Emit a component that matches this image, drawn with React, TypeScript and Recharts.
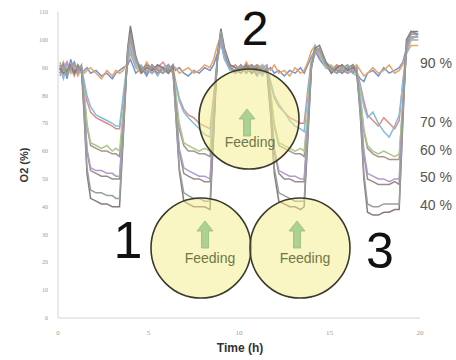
import React from 'react';
import { LineChart, Line, XAxis, YAxis } from 'recharts';

// sampling times (h), denser around the drops
const time = [
  0.1, 0.3, 0.5, 0.7, 0.9, 1.1, 1.3,
  1.45, 1.6, 1.8,
  2.1, 2.4, 2.7, 3.0, 3.2, 3.4,
  3.6, 3.85, 4.0, 4.3,
  4.6, 4.9, 5.2, 5.5, 5.8, 6.1, 6.35,
  6.5, 6.7, 6.95,
  7.2, 7.5, 7.8, 8.1, 8.4,
  8.6, 8.8, 9.0, 9.2, 9.5,
  9.8, 10.1, 10.4, 10.7, 11.0, 11.3, 11.55,
  11.75, 11.95, 12.2,
  12.5, 12.8, 13.1, 13.4, 13.6,
  13.8, 14.0, 14.2, 14.45, 14.8,
  15.1, 15.4, 15.7, 16.0, 16.3, 16.5,
  16.7, 16.9, 17.1,
  17.4, 17.7, 18.0, 18.3, 18.6, 18.85,
  19.05, 19.25, 19.5, 19.9,
];

// O2 (%) per setpoint, two runs each
const o2_90a = [
  88, 91, 86, 93, 89, 90, 88, 89, 90, 88, 89, 87, 88, 86, 88, 89, 90, 91, 93, 88,
  90, 87, 91, 89, 90, 88, 91, 89, 90, 88, 87, 89, 88, 90, 89, 91, 95, 99, 93, 90,
  88, 91, 89, 90, 87, 91, 89, 90, 88, 89, 87, 89, 88, 90, 88, 91, 94, 96, 93, 90,
  89, 91, 88, 90, 89, 88, 86, 85, 88, 89, 87, 90, 88, 89, 90, 92, 97, 100, 100,
];
const o2_90b = [
  91, 87, 92, 88, 90, 87, 90, 88, 89, 90, 88, 86, 89, 87, 89, 88, 89, 92, 95, 90,
  88, 92, 89, 90, 88, 91, 89, 90, 88, 89, 90, 88, 89, 91, 90, 93, 98, 101, 95, 91,
  90, 88, 92, 89, 91, 88, 90, 89, 91, 88, 89, 87, 90, 88, 89, 92, 96, 98, 95, 91,
  90, 88, 91, 89, 90, 91, 89, 87, 88, 90, 88, 89, 91, 88, 89, 91, 95, 98, 98,
];
const o2_70a = [
  89, 92, 88, 90, 87, 91, 89, 84, 78, 74, 72, 71, 70, 69, 68, 68, 78, 92, 97, 91,
  89, 91, 88, 90, 92, 89, 90, 85, 79, 75, 73, 72, 70, 69, 68, 80, 93, 99, 94, 90,
  91, 89, 90, 88, 91, 90, 88, 84, 79, 76, 74, 72, 71, 70, 70, 82, 93, 97, 94, 91,
  89, 91, 90, 88, 90, 89, 84, 78, 73, 71, 69, 72, 70, 68, 71, 85, 96, 101, 101,
];
const o2_70b = [
  90, 86, 91, 89, 92, 88, 90, 85, 80, 76, 73, 72, 71, 70, 69, 69, 80, 93, 96, 90,
  91, 88, 90, 87, 90, 91, 88, 84, 78, 74, 72, 70, 68, 66, 65, 78, 92, 100, 93, 89,
  89, 90, 88, 91, 89, 87, 90, 85, 80, 77, 74, 71, 69, 68, 67, 80, 92, 98, 95, 90,
  90, 88, 89, 91, 88, 87, 83, 76, 72, 74, 70, 67, 65, 69, 73, 84, 95, 100, 102,
];
const o2_60a = [
  88, 90, 87, 91, 89, 88, 90, 80, 69, 62, 61, 60, 60, 59, 59, 58, 72, 95, 101, 92,
  90, 88, 91, 89, 88, 90, 89, 80, 68, 62, 60, 60, 59, 59, 58, 74, 92, 101, 95, 90,
  88, 90, 89, 91, 88, 90, 89, 80, 69, 62, 61, 60, 59, 59, 58, 72, 91, 96, 96, 91,
  88, 90, 89, 88, 91, 89, 79, 67, 61, 59, 58, 58, 57, 57, 57, 78, 97, 102, 102,
];
const o2_60b = [
  92, 89, 90, 88, 91, 90, 88, 81, 70, 63, 62, 61, 62, 60, 61, 60, 74, 94, 99, 91,
  89, 90, 88, 91, 89, 88, 90, 81, 70, 63, 62, 61, 60, 61, 60, 76, 93, 102, 96, 91,
  90, 89, 91, 88, 90, 91, 88, 81, 70, 63, 62, 61, 60, 61, 60, 74, 92, 97, 95, 90,
  91, 89, 90, 89, 88, 90, 80, 68, 62, 60, 59, 60, 59, 58, 59, 76, 96, 100, 100,
];
const o2_50a = [
  89, 91, 88, 90, 88, 91, 89, 76, 60, 53, 52, 51, 51, 50, 50, 50, 68, 96, 103, 93,
  89, 91, 90, 88, 90, 89, 91, 77, 60, 52, 51, 50, 50, 49, 49, 70, 93, 103, 96, 90,
  89, 88, 90, 91, 89, 88, 90, 76, 60, 52, 50, 50, 49, 49, 49, 68, 90, 96, 97, 92,
  90, 89, 88, 90, 91, 88, 76, 59, 50, 49, 48, 48, 48, 49, 48, 74, 98, 103, 102,
];
const o2_50b = [
  87, 90, 92, 89, 91, 88, 90, 77, 61, 54, 53, 53, 52, 52, 51, 51, 70, 94, 100, 92,
  90, 89, 88, 91, 89, 90, 88, 77, 61, 54, 53, 52, 51, 51, 50, 72, 94, 101, 95, 91,
  88, 91, 89, 90, 88, 90, 91, 77, 61, 53, 52, 51, 51, 50, 50, 70, 91, 95, 96, 91,
  89, 90, 91, 88, 89, 90, 77, 60, 52, 51, 50, 50, 49, 50, 50, 75, 96, 101, 101,
];
const o2_40a = [
  90, 88, 89, 91, 88, 90, 89, 72, 52, 43, 42, 41, 41, 40, 40, 40, 64, 97, 105, 94,
  88, 90, 89, 91, 90, 88, 90, 74, 53, 42, 41, 40, 40, 40, 39, 66, 94, 104, 97, 91,
  90, 89, 91, 88, 90, 89, 88, 73, 52, 42, 41, 40, 40, 39, 40, 64, 90, 97, 98, 92,
  88, 90, 91, 89, 90, 89, 73, 50, 38, 37, 37, 38, 38, 39, 39, 70, 100, 103, 103,
];
const o2_40b = [
  91, 89, 88, 90, 92, 89, 91, 73, 54, 46, 45, 45, 44, 44, 43, 43, 66, 96, 102, 93,
  90, 88, 91, 89, 88, 91, 89, 74, 54, 45, 44, 43, 43, 42, 42, 68, 94, 103, 96, 90,
  89, 91, 88, 90, 91, 88, 90, 74, 54, 45, 44, 43, 42, 42, 42, 66, 90, 96, 97, 91,
  89, 88, 90, 91, 88, 90, 74, 52, 41, 40, 40, 41, 41, 41, 41, 72, 99, 102, 102,
];

const yTicks = [0, 10, 20, 30, 40, 50, 60, 70, 80, 90, 100, 110];
const xTicks = [0, 5, 10, 15, 20];
const setpointLabels = ['90 %', '70 %', '60 %', '50 %', '40 %'];

const series = [
  { key: 'a90', values: o2_90a, color: '#7594d2' },
  { key: 'b90', values: o2_90b, color: '#e9a468' },
  { key: 'a70', values: o2_70a, color: '#d98e8a' },
  { key: 'b70', values: o2_70b, color: '#86bcdc' },
  { key: 'a60', values: o2_60a, color: '#a6958f' },
  { key: 'b60', values: o2_60b, color: '#adc68a' },
  { key: 'a50', values: o2_50a, color: '#9a8c88' },
  { key: 'b50', values: o2_50b, color: '#b09bcb' },
  { key: 'a40', values: o2_40a, color: '#8a7b76' },
  { key: 'b40', values: o2_40b, color: '#96a09d' },
];

const data = time.map((t, i) => {
  const row: Record<string, number> = { t };
  series.forEach((s) => { row[s.key] = s.values[i]; });
  return row;
});

const labelY = [63, 122, 150, 177, 205];

const Arrow = ({ x, top, bottom }: { x: number; top: number; bottom: number }) => {
  const head = 10;
  const pts = [
    [x, top], [x + 8, top + head], [x + 3.5, top + head], [x + 3.5, bottom],
    [x - 3.5, bottom], [x - 3.5, top + head], [x - 8, top + head],
  ].map((p) => p.join(',')).join(' ');
  return <polygon points={pts} fill="#acd192" stroke="#93bd78" strokeWidth={0.8} />;
};

const Bubble = ({ cx, cy, ax, at, ab, tx, ty }: any) => (
  <g>
    <circle cx={cx} cy={cy} r={50} fill="#f3ee8a" fillOpacity={0.5} stroke="#3b3b2c" strokeWidth={1.6} />
    <Arrow x={ax} top={at} bottom={ab} />
    <text x={tx} y={ty} textAnchor="middle" fontSize={14} fill="#6f7846" fontFamily="Arial, 'Liberation Sans', sans-serif">
      Feeding
    </text>
  </g>
);

export default function App() {
  return (
    <div style={{ position: 'absolute', left: 0, top: 0, width: 456, height: 360, background: '#fff' }}>
      <LineChart width={456} height={360} data={data} margin={{ top: 12, right: 36, left: 0, bottom: 12 }}>
        <XAxis
          dataKey="t"
          type="number"
          domain={[0, 20]}
          ticks={xTicks}
          stroke="#d4d4d4"
          tickLine={false}
          tickMargin={6}
          tick={{ fontSize: 7, fill: '#9a9a9a' }}
          height={30}
        />
        <YAxis
          domain={[0, 110]}
          ticks={yTicks}
          stroke="#d4d4d4"
          tickLine={false}
          tickMargin={4}
          tick={{ fontSize: 6, fill: '#9a9a9a' }}
          width={58}
        />
        {series.map((s) => (
          <Line
            key={s.key}
            type="linear"
            dataKey={s.key}
            stroke={s.color}
            strokeWidth={1.5}
            dot={false}
            isAnimationActive={false}
          />
        ))}
      </LineChart>
      <svg width={456} height={360} style={{ position: 'absolute', left: 0, top: 0, pointerEvents: 'none' }}>
        <Bubble cx={249} cy={119} ax={247} at={109} ab={136} tx={250} ty={147} />
        <Bubble cx={201} cy={248} ax={205} at={221} ab={248} tx={210} ty={263} />
        <Bubble cx={300} cy={248} ax={297} at={221} ab={248} tx={305} ty={263} />
        <g fontFamily="Arial, 'Liberation Sans', sans-serif" fill="#111">
          <text x={128} y={258} fontSize={52} textAnchor="middle">1</text>
          <text x={255} y={45} fontSize={48} textAnchor="middle">2</text>
          <text x={380} y={268} fontSize={50} textAnchor="middle">3</text>
        </g>
        {setpointLabels.map((l, i) => (
          <text key={l} x={420} y={labelY[i] + 5} fontSize={14} fill="#555"
            fontFamily="Arial, 'Liberation Sans', sans-serif">{l}</text>
        ))}
        <text x={25} y={165} transform="rotate(-90 25 165)" textAnchor="middle" dominantBaseline="middle"
          fontSize={11} fontWeight="bold" fill="#333" fontFamily="Arial, 'Liberation Sans', sans-serif">
          O2 (%)
        </text>
        <text x={240} y={352} textAnchor="middle" fontSize={12} fontWeight="bold" fill="#333"
          fontFamily="Arial, 'Liberation Sans', sans-serif">
          Time (h)
        </text>
      </svg>
    </div>
  );
}
